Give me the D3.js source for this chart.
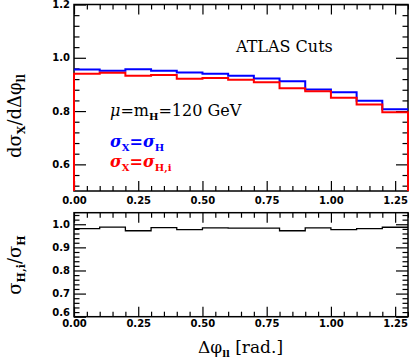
<!DOCTYPE html>
<html>
<head>
<meta charset="utf-8">
<script src="https://cdn.jsdelivr.net/npm/d3@7"></script>
<style>
  body { margin: 0; background: #fff; }
  .tick text { font-family: "DejaVu Sans", sans-serif; font-weight: bold; font-size: 10px; fill: #000; }
  .lbl { font-family: "DejaVu Serif", serif; fill: #000; }
</style>
</head>
<body>
<svg id="chart" width="409" height="358"></svg>
<script>
// bin lower edges of delta phi_ll (rad.), width 0.1
const binLo = [0.0, 0.1, 0.2, 0.3, 0.4, 0.5, 0.6, 0.7, 0.8, 0.9, 1.0, 1.1, 1.2];
const binHi = 1.3;
// d sigma_X / d delta phi_ll, sigma_X = sigma_H (blue)
const sigmaH = [0.956, 0.951, 0.957, 0.951, 0.945, 0.940, 0.933, 0.922, 0.912, 0.881, 0.871, 0.839, 0.807];
// sigma_X = sigma_H,i (red)
const sigmaHi = [0.940, 0.944, 0.933, 0.935, 0.921, 0.924, 0.918, 0.908, 0.886, 0.874, 0.850, 0.825, 0.796];
// ratio sigma_H,i / sigma_H
const ratio = [0.981, 0.988, 0.972, 0.985, 0.977, 0.984, 0.983, 0.983, 0.972, 0.984, 0.977, 0.981, 0.987];

const xMajor = [0, 0.25, 0.5, 0.75, 1.0, 1.25];
const xMinor = [0.05, 0.1, 0.15, 0.2, 0.3, 0.35, 0.4, 0.45, 0.55, 0.6, 0.65, 0.7, 0.8, 0.85, 0.9, 0.95, 1.05, 1.1, 1.15, 1.2, 1.3];
const yTopMajor = [0.6, 0.8, 1.0, 1.2];
const yTopMinor = [0.52, 0.56, 0.64, 0.68, 0.72, 0.76, 0.84, 0.88, 0.92, 0.96, 1.04, 1.08, 1.12, 1.16];
const yBotMajor = [0.6, 0.7, 0.8, 0.9, 1.0];
const yBotMinor = [0.62, 0.64, 0.66, 0.68, 0.72, 0.74, 0.76, 0.78, 0.82, 0.84, 0.86, 0.88, 0.92, 0.94, 0.96, 0.98, 1.02, 1.04];

const svg = d3.select("#chart");
const left = 74, right = 408;

let x = d3.scaleLinear().domain([0, 1.3]).range([left, right]);
let yTop = d3.scaleLinear().domain([0.5, 1.2]).range([191, 4.5]);
let yBot = d3.scaleLinear().domain([0.6, 1.05]).range([316.7, 212.7]);

function frame(y, xPad) {
  let g = svg.append("g");
  let [y0, y1] = y.range();
  let yMaj = y === yTop ? yTopMajor : yBotMajor;
  let yMin = y === yTop ? yTopMinor : yBotMinor;
  let fmtY = d3.format(".1f");

  // x axes (bottom with labels, top mirrored)
  g.append("g").attr("transform", `translate(0,${y0})`)
    .call(d3.axisBottom(x).tickValues(xMajor).tickSize(-10).tickPadding(xPad).tickFormat(d3.format(".2f")));
  g.append("g").attr("transform", `translate(0,${y0})`)
    .call(d3.axisBottom(x).tickValues(xMinor).tickSize(-5).tickFormat(""));
  g.append("g").attr("transform", `translate(0,${y1})`)
    .call(d3.axisTop(x).tickValues(xMajor).tickSize(-10).tickFormat(""));
  g.append("g").attr("transform", `translate(0,${y1})`)
    .call(d3.axisTop(x).tickValues(xMinor).tickSize(-5).tickFormat(""));

  // y axes (left with labels, right mirrored)
  let yl = g.append("g").attr("transform", `translate(${left},0)`)
    .call(d3.axisLeft(y).tickValues(yMaj).tickSize(-12).tickPadding(4).tickFormat(fmtY));
  g.append("g").attr("transform", `translate(${left},0)`)
    .call(d3.axisLeft(y).tickValues(yMin).tickSize(-5.5).tickFormat(""));
  g.append("g").attr("transform", `translate(${right},0)`)
    .call(d3.axisRight(y).tickValues(yMaj).tickSize(-12).tickFormat(""));
  g.append("g").attr("transform", `translate(${right},0)`)
    .call(d3.axisRight(y).tickValues(yMin).tickSize(-5.5).tickFormat(""));

  // lowest label of the ratio panel sits just above the 0.00 label
  if (y === yBot) {
    yl.selectAll(".tick text").filter((d) => d === 0.6).attr("y", -4.5);
  }

  g.selectAll(".domain").remove();
  g.selectAll(".tick line").attr("stroke", "#000").attr("stroke-width", 1.2);

  g.append("rect")
    .attr("x", left).attr("y", y1)
    .attr("width", right - left).attr("height", y0 - y1)
    .attr("fill", "none").attr("stroke", "#000").attr("stroke-width", 1.5);
}

frame(yTop, 6);
frame(yBot, 3);

function stepPts(vals, closeTo) {
  let pts = binLo.map((b, i) => [b, vals[i]]);
  pts.push([binHi, vals[vals.length - 1]]);
  if (closeTo != null) {
    pts.unshift([0, closeTo]);
    pts.push([binHi, closeTo]);
  }
  return pts;
}

function stepLine(y) {
  return d3.line().x((d) => x(d[0])).y((d) => y(d[1])).curve(d3.curveStepAfter);
}

svg.append("path")
  .attr("d", stepLine(yTop)(stepPts(sigmaH)))
  .attr("fill", "none").attr("stroke", "#0000ff").attr("stroke-width", 2);
svg.append("path")
  .attr("d", stepLine(yTop)(stepPts(sigmaHi, 0.5)))
  .attr("fill", "none").attr("stroke", "#ff0000").attr("stroke-width", 2);
svg.append("path")
  .attr("d", stepLine(yBot)(stepPts(ratio)))
  .attr("fill", "none").attr("stroke", "#000").attr("stroke-width", 1.3);

// annotations
svg.append("text").attr("class", "lbl")
  .attr("x", 236).attr("y", 52).style("font-size", "16px")
  .text("ATLAS Cuts");

let mu = svg.append("text").attr("class", "lbl")
  .attr("x", 110).attr("y", 116).style("font-size", "16px");
mu.append("tspan").style("font-style", "italic").text("μ");
mu.append("tspan").text("=m");
mu.append("tspan").attr("dy", 4).style("font-size", "10px").style("font-weight", "bold").text("H");
mu.append("tspan").attr("dy", -4).text("=120 GeV");

function legend(yPos, color, sub) {
  let t = svg.append("text").attr("class", "lbl")
    .attr("x", 110).attr("y", yPos)
    .style("font-size", "16px").style("font-weight", "bold").style("fill", color);
  t.append("tspan").style("font-style", "italic").text("σ");
  t.append("tspan").attr("dy", 4).style("font-size", "10px").text("X");
  t.append("tspan").attr("dy", -4).text("=");
  t.append("tspan").style("font-style", "italic").text("σ");
  t.append("tspan").attr("dy", 4).style("font-size", "10px").text(sub);
}
legend(147, "#0000ff", "H");
legend(167, "#ff0000", "H,i");

// axis titles
let yt = svg.append("text").attr("class", "lbl")
  .attr("transform", "translate(21,116) rotate(-90)")
  .attr("text-anchor", "middle").style("font-size", "18px");
yt.append("tspan").text("dσ");
yt.append("tspan").attr("dy", 4).style("font-size", "11px").style("font-weight", "bold").text("X");
yt.append("tspan").attr("dy", -4).text("/dΔφ");
yt.append("tspan").attr("dy", 4).style("font-size", "11px").style("font-weight", "bold").text("ll");

let yb = svg.append("text").attr("class", "lbl")
  .attr("transform", "translate(21,265) rotate(-90)")
  .attr("text-anchor", "middle").style("font-size", "18px");
yb.append("tspan").text("σ");
yb.append("tspan").attr("dy", 4).style("font-size", "11px").style("font-weight", "bold").text("H,i");
yb.append("tspan").attr("dy", -4).text("/σ");
yb.append("tspan").attr("dy", 4).style("font-size", "11px").style("font-weight", "bold").text("H");

let xt = svg.append("text").attr("class", "lbl")
  .attr("x", 198).attr("y", 353).style("font-size", "17px");
xt.append("tspan").text("Δφ");
xt.append("tspan").attr("dy", 4).style("font-size", "10px").style("font-weight", "bold").text("ll");
xt.append("tspan").attr("dy", -4).text(" [rad.]");
</script>
</body>
</html>
